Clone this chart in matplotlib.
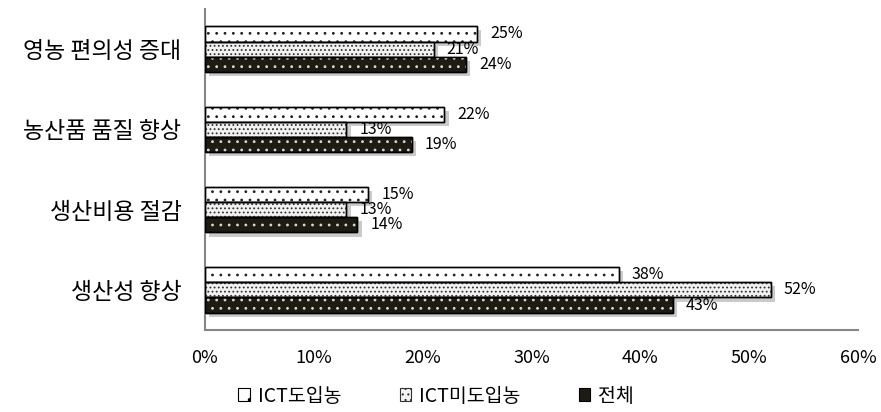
import numpy as np
import matplotlib
matplotlib.use("Agg")
import matplotlib.pyplot as plt
import matplotlib.patheffects as pe
from matplotlib.patches import Patch

plt.rcParams["font.family"] = ["Noto Sans CJK KR", "DejaVu Sans"]
plt.rcParams["hatch.linewidth"] = 0.8

categories = ["생산성 향상", "생산비용 절감", "농산품 품질 향상", "영농 편의성 증대"]
series_names = ["ICT도입농", "ICT미도입농", "전체"]
ict_adopt = [38, 15, 22, 25]
ict_non = [52, 13, 13, 21]
overall = [43, 14, 19, 24]
x_ticks = [0, 10, 20, 30, 40, 50, 60]

fig = plt.figure(figsize=(8.81, 4.12), dpi=100)
ax = fig.add_axes([205 / 881, 1 - 330 / 412, 653 / 881, 321 / 412])

y = np.arange(len(categories))
h = 0.19
shadow = [pe.SimplePatchShadow(offset=(3, -3), shadow_rgbFace="#a0a0a0", alpha=0.55), pe.Normal()]

styles = [
    (ict_adopt, h, "white", "#222222", ".."),
    (ict_non, 0, "#f2f2f2", "#333333", "...."),
    (overall, -h, "#1e1c12", "#d8d8d8", ".."),
]

for vals, off, fc, hc, hatch in styles:
    bars = ax.barh(y + off, vals, height=h, color=fc, edgecolor="black", linewidth=1.0, zorder=2)
    for b in bars:
        b.set_path_effects(shadow)
    # hatch overlay drawn separately so the dot colour can differ from the outline
    ax.barh(y + off, vals, height=h, color="none", edgecolor=hc, hatch=hatch, linewidth=0, zorder=3)
    ax.barh(y + off, vals, height=h, color="none", edgecolor="black", linewidth=1.0, zorder=4)
    for yi, v in zip(y + off, vals):
        ax.text(v + 1.2, yi, f"{v}%", va="center", ha="left", fontsize=11.5, zorder=5)

ax.set_xlim(0, 60)
ax.set_ylim(-0.5, 3.5)
ax.set_xticks(x_ticks)
ax.set_xticklabels([f"{t}%" for t in x_ticks], fontsize=13)
ax.set_yticks(y)
ax.set_yticklabels(categories, fontsize=16.5)
ax.tick_params(axis="both", length=0)
ax.tick_params(axis="x", pad=14)
ax.tick_params(axis="y", pad=17)
for s in ["top", "right"]:
    ax.spines[s].set_visible(False)
for s in ["left", "bottom"]:
    ax.spines[s].set_color("#868686")
    ax.spines[s].set_linewidth(1.5)

handles = [
    Patch(facecolor="white", edgecolor="black", hatch=".", linewidth=0.8),
    Patch(facecolor="#f2f2f2", edgecolor="#333333", hatch="...", linewidth=0.8),
    Patch(facecolor="#1e1c12", edgecolor="black", linewidth=0.8),
]
fig.legend(handles, series_names, loc="center", bbox_to_anchor=(0.495, 1 - 396 / 412), ncol=3,
           frameon=False, fontsize=14, handlelength=0.6, handleheight=0.6,
           handletextpad=0.4, columnspacing=3.0)

fig.savefig("out.png", dpi=100)
